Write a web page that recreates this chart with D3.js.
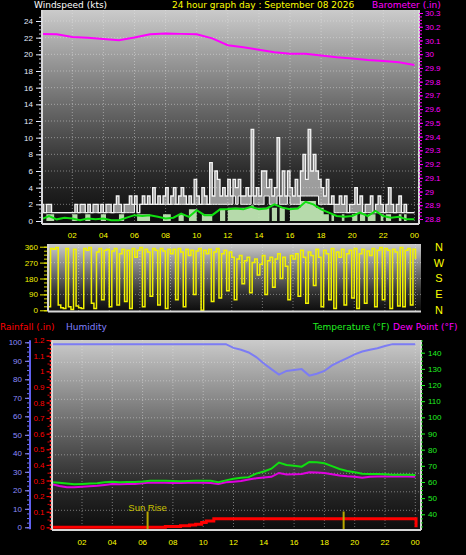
<!DOCTYPE html>
<html><head><meta charset="utf-8">
<script src="https://cdn.jsdelivr.net/npm/d3@7"></script>
<style>
html,body{margin:0;padding:0;background:#000;}
svg{display:block;font-family:"Liberation Sans",Arial,sans-serif;}
.title{font-family:"DejaVu Sans",Verdana,sans-serif;font-size:9px;}
</style></head><body>
<svg id="c" width="466" height="555"></svg>
<script>
// ---------------- DATA ----------------
const hourTicks  = [2,4,6,8,10,12,14,16,18,20,22,24];
const hourLabels = ["02","04","06","08","10","12","14","16","18","20","22","00"];

// wind, 10-minute samples 00:00 .. 24:00 (kts)
const windGust = [
 2,1,2,2,1,1, 1,1,1,1,1,1, 1,2,1,2,2,1, 2,1,2,2,1,2,
 1,2,2,1,2,3, 2,1,2,2,3,2, 3,1,2,3,2,3, 2,4,2,3,2,3,
 4,2,3,4,2,3, 4,3,2,3,2,5, 3,2,4,3,2,7, 3,6,5,3,4,3,
 5,3,5,4,5,3, 3,4,3,11,3,4, 3,6,6,4,5,3, 4,10,3,6,3,6,
 4,3,5,3,6,8, 5,11,6,8,6,5, 4,3,5,2,3,2, 2,3,2,3,1,2,
 2,4,2,3,1,2, 2,3,1,2,3,2, 1,2,4,2,1,2, 3,1,2,1,1,1, 1];
const windLull = [
 1,1,1,1,1,1, 1,1,1,1,1,1, 1,1,1,1,1,1, 1,1,1,1,1,1,
 1,1,1,1,1,1, 1,1,1,1,1,1, 2,1,2,2,2,2, 2,2,2,2,2,2,
 2,2,2,2,2,2, 2,2,2,2,2,2, 2,2,2,2,2,2, 2,2,2,2,2,2,
 2,2,3,2,3,2, 2,2,2,3,2,2, 2,2,3,3,2,2, 2,3,2,2,2,3,
 2,2,2,2,3,3, 3,3,3,3,3,2, 2,2,2,2,2,1, 1,1,1,1,1,1,
 1,1,1,1,1,1, 1,1,1,1,1,1, 1,1,1,1,1,1, 1,1,1,1,1,1, 1];
const windSpeed = [
 0,0,0.8,0.8,0.8,0, 0,0,0,0,0,0, 0.8,0.8,0,0,0,0.8, 0.8,0,0,0,0,0.8,
 0.8,0,0,0,0,0, 0.8,0.8,0,0,0,0, 0,0.8,0.8,0.8,0.8,0.8, 0,0,0,0,0,0.8,
 0.8,0.8,0,0,0,0.8, 0.8,0,0,1.4,1.4,1.4, 0,0,0.8,0.8,0.8,0.8, 0,0,0,1.4,1.4,0,
 1.6,1.6,1.6,1.6,1.6,1.6, 1.6,1.6,1.6,1.9,1.6,1.6, 1.6,1.6,1.6,1.6,0,1.6, 1.6,0,1.6,1.6,0,0,
 1.6,1.6,1.6,1.6,2.4,2.4, 2.4,2.4,2.4,2.4,1.6,1.6, 1.6,0.8,0.8,0,0.8,0, 0,0,0.8,0,0,0,
 0.8,0.8,0,0.8,0.8,0, 0.8,0.8,0.8,0,0,0.8, 0,0.8,0.8,0,0,0, 0.8,0,0.8,0,0,0, 0];
// average wind, 30-minute samples
const windAvg = [
 0.2,0.6,0.2,0.4,0.3,0.1,0.3,0.2,0.3,0.1,0.1,0.4,0.7,0.6,0.7,0.5,0.3,0.4,0.9,0.5,
 1.3,0.7,0.7,1.4,1.4,1.5,1.4,1.7,1.4,1.5,2.0,1.6,1.4,1.5,2.3,2.0,1.4,1.0,0.6,0.5,
 0.6,1.0,0.6,1.2,0.6,0.4,0.5,0.2,0.2];
// wind direction, 10-minute samples (degrees)
const windDir = [
 20,350,345,355,30,15, 10,350,20,5,345,25, 15,10,350,340,355,40, 10,330,350,60,340,345,
 20,335,350,30,320,345, 50,340,10,350,300,340, 355,20,345,330,80,350, 340,30,350,335,10,345,
 320,345,60,350,330,20, 345,310,340,90,335,350, 0,340,320,345,50,330, 350,70,320,340,110,330,
 300,60,290,310,150,280, 300,100,270,290,200,260, 310,90,280,300,130,290, 320,180,300,250,60,310,
 290,320,80,340,300,40, 330,310,140,345,300,20, 340,320,60,350,10,330, 300,345,30,320,340,70,
 350,10,320,345,40,335, 310,350,20,340,355,60, 350,340,10,345,330,25, 355,20,340,350,30,345, 290];
// barometer, hourly (in)
const barometer = [30.147,30.145,30.126,30.120,30.110,30.102,30.122,30.145,30.150,30.148,30.145,
 30.115,30.065,30.050,30.032,30.015,30.004,30.003,29.990,29.977,29.968,29.957,29.950,29.942,29.922];
// 30-minute samples
const humidity = [99,99,99,99,99,99,99,99,99,99,99,99,99,99,99,99,99,99,99,99,99,99,99,99,
 97,96,94.5,92,88.5,85.5,82.5,84.5,85,85.5,82,83,84.5,87.5,89.5,91.5,93.5,95,96,96.8,98,99,99,99,99];
const temperature = [59.8,59.5,59,58.6,58.8,59,59.2,59.8,60.2,59.8,60,60,60.3,60.8,60.8,60.8,60.6,60.5,
 60.6,60.8,60.8,60.8,59.9,61,62,62.6,63,65.2,66.5,68.2,72,70.5,70,69.5,72.4,72.2,71.6,69.8,68,66.8,
 66,65.1,65,65,64.8,64.5,64.5,64.5,64.3];
const dewPoint = [58.6,57.5,56.7,56.8,57.1,57.3,57.6,58.2,58.8,58.6,58.8,58.8,59.2,59.6,59.6,59.6,59.4,59.4,
 59.6,59.6,59.6,59.4,58.8,59.8,60.2,60.6,61.5,62.3,62.8,63.2,65.6,64.7,64.8,64.9,66,65.8,65.6,64.8,64,63.5,
 63.2,62.6,63.2,63.4,63.4,63.4,63.4,63.4,63.2];
// rainfall (stepped)
const rainHours = [0,7.5,8.5,9.1,9.5,9.9,10.2,10.7,24.05,24.05];
const rainfall  = [0,0.005,0.01,0.015,0.02,0.03,0.04,0.055,0.055,0];
const sunRise = 6.33, sunSet = 19.27;
const compass = ["N","W","S","E","N"];
const compassDeg = [360,270,180,90,0];

// ---------------- DRAW ----------------
const svg = d3.select("#c");
const defs = svg.append("defs");
const gr = defs.append("linearGradient").attr("id","bg").attr("x1",0).attr("y1",0).attr("x2",0).attr("y2",1);
[[0,"#cbcbcb"],[0.45,"#6a6a6a"],[0.75,"#2c2c2c"],[1,"#0c0c0c"]].forEach(([o,c])=>gr.append("stop").attr("offset",o).attr("stop-color",c));

const P1={x0:42,x1:419,y0:10,y1:224}, P2={x0:48,x1:421,y0:244,y1:311.5}, P3={x0:52,x1:421,y0:340,y1:530};
function panel(P,id){
  svg.append("rect").attr("x",P.x0).attr("y",P.y0).attr("width",P.x1-P.x0).attr("height",P.y1-P.y0).attr("fill","url(#bg)");
  defs.append("clipPath").attr("id",id).append("rect").attr("x",P.x0).attr("y",P.y0).attr("width",P.x1-P.x0).attr("height",P.y1-P.y0);
}
function hgrid(P,ys){ svg.append("g").selectAll("line").data(ys).join("line")
  .attr("x1",P.x0).attr("x2",P.x1).attr("y1",d=>d).attr("y2",d=>d)
  .attr("stroke","#e8e8e8").attr("stroke-opacity",0.45).attr("stroke-dasharray","1,2"); }
function vgrid(P,xs){ svg.append("g").selectAll("line").data(xs).join("line")
  .attr("y1",P.y0).attr("y2",P.y1).attr("x1",d=>d).attr("x2",d=>d)
  .attr("stroke","#e8e8e8").attr("stroke-opacity",0.45).attr("stroke-dasharray","1,2"); }
function frame(P,sides){ const s={l:[P.x0,P.y0,P.x0,P.y1],b:[P.x0,P.y1,P.x1,P.y1],r:[P.x1,P.y0,P.x1,P.y1]};
  sides.forEach(k=>svg.append("line").attr("x1",s[k][0]).attr("y1",s[k][1]).attr("x2",s[k][2]).attr("y2",s[k][3])
   .attr("stroke","#d8d8d8").attr("stroke-width",2)); }
function styleAxis(g,color,size){
  g.select(".domain").remove();
  g.attr("font-family",null).attr("font-size",null);
  g.selectAll("line").attr("stroke",color);
  g.selectAll("text").attr("fill",color).style("font-size",(size||8)+"px");
}
function range(a,b,s){ const r=[]; for(let v=a; v<=b+1e-9; v+=s) r.push(+v.toFixed(4)); return r; }

// ===== Panel 1: wind / barometer =====
const xT = d3.scaleLinear([0,24],[41.2,414.4]);
const yW = d3.scaleLinear([0,24],[221,21]);
const yBaro = d3.scaleLinear([28.8,30.3],[219,13]);
panel(P1,"c1");
hgrid(P1, range(2,24,2).map(yW));
vgrid(P1, hourTicks.map(xT));
const t10 = i=>i/6, t30 = i=>i/2;
const g1 = svg.append("g").attr("clip-path","url(#c1)");
g1.append("path").datum(windSpeed).attr("fill","#c4ecb8").attr("fill-opacity",0.92)
  .attr("d", d3.area().x((d,i)=>xT(t10(i))).y0(yW(0)).y1(d=>yW(d)).curve(d3.curveStepAfter));
g1.append("path").datum(windGust).attr("fill","#e8e8e8").attr("fill-opacity",0.62)
  .attr("d", d3.area().x((d,i)=>xT(t10(i))).y0((d,i)=>yW(windLull[i])).y1(d=>yW(d)).curve(d3.curveStepAfter));
g1.append("path").datum(windGust).attr("fill","none").attr("stroke","#f4f4f4").attr("stroke-width",1.3)
  .attr("d", d3.line().x((d,i)=>xT(t10(i))).y(d=>yW(d)).curve(d3.curveStepAfter));
g1.append("path").datum(windLull).attr("fill","none").attr("stroke","#f0f0f0").attr("stroke-width",1)
  .attr("d", d3.line().x((d,i)=>xT(t10(i))).y(d=>yW(d)).curve(d3.curveStepAfter));
g1.append("path").datum(windAvg).attr("fill","none").attr("stroke","#10e010").attr("stroke-width",2)
  .attr("d", d3.line().x((d,i)=>xT(t30(i))).y(d=>yW(d)));
g1.append("path").datum(barometer).attr("fill","none").attr("stroke","#ff00ff").attr("stroke-width",2)
  .attr("d", d3.line().x((d,i)=>xT(i)).y(d=>yBaro(d)));
frame(P1,["l","b","r"]);
// left axis
svg.append("g").attr("transform",`translate(${P1.x0},0)`).call(d3.axisLeft(yW).tickValues(range(0,24.5,0.5)).tickSize(3).tickFormat(""))
  .call(g=>styleAxis(g,"#c8c8d8"));
svg.append("g").attr("transform",`translate(${P1.x0},0)`).call(d3.axisLeft(yW).tickValues(range(0,24,2)).tickSize(6).tickPadding(3))
  .call(g=>styleAxis(g,"#e4ecff"));
// right axis barometer
svg.append("g").attr("transform",`translate(${P1.x1},0)`).call(d3.axisRight(yBaro).tickValues(range(28.8,30.3,0.025)).tickSize(3).tickFormat(""))
  .call(g=>styleAxis(g,"#ff00ff"));
svg.append("g").attr("transform",`translate(${P1.x1},0)`).call(d3.axisRight(yBaro).tickValues(range(28.8,30.3,0.1)).tickSize(4).tickPadding(2)
  .tickFormat(d=>String(+d.toFixed(1)))).call(g=>styleAxis(g,"#ff00ff"));
// bottom hour labels
svg.append("g").selectAll("text").data(hourTicks).join("text")
  .attr("x",d=>xT(d)).attr("y",237.5).attr("text-anchor","middle").attr("fill","#ffff00").style("font-size","8px")
  .text((d,i)=>hourLabels[i]);
// titles
svg.append("text").attr("class","title").attr("x",34).attr("y",7.5).attr("fill","#ffffff").text("Windspeed (kts)");
svg.append("text").attr("class","title").attr("x",172).attr("y",7.5).attr("fill","#ffff00").text("24 hour graph day : September 08 2026");
svg.append("text").attr("class","title").attr("x",372).attr("y",7.5).attr("fill","#ff00ff").text("Barometer (.in)");

// ===== Panel 2: wind direction =====
const xD = d3.scaleLinear([0,24],[48,415.5]);
const yD = d3.scaleLinear([0,360],[310.3,246.7]);
panel(P2,"c2");
hgrid(P2,[90,180,270].map(yD));
vgrid(P2, hourTicks.map(xD));
svg.append("g").attr("clip-path","url(#c2)").append("path").datum(windDir)
  .attr("fill","none").attr("stroke","#f2f200").attr("stroke-width",1.5)
  .attr("d", d3.line().x((d,i)=>xD(t10(i))).y(d=>yD(d)).curve(d3.curveStepAfter));
frame(P2,["l","b"]);
svg.append("g").attr("transform",`translate(${P2.x0-1},0)`).call(d3.axisLeft(yD).tickValues(range(0,360,22.5)).tickSize(3).tickFormat(""))
  .call(g=>styleAxis(g,"#e0e000"));
svg.append("g").attr("transform",`translate(${P2.x0-1},0)`).call(d3.axisLeft(yD).tickValues([0,90,180,270,360]).tickSize(7).tickPadding(2))
  .call(g=>styleAxis(g,"#f0f000"));
svg.append("g").selectAll("text").data(compass).join("text")
  .attr("x",439).attr("y",(d,i)=>yD(compassDeg[i])).attr("dy","0.36em").attr("text-anchor","middle")
  .attr("fill","#ffff00").style("font-size","11px").text(d=>d);

// ===== Panel 3: rain / humidity / temperature =====
const xB = d3.scaleLinear([0,24],[51.7,415.3]);
const yH = d3.scaleLinear([0,100],[527.3,342.3]);
const yR = d3.scaleLinear([0,1.1],[527.3,355.7]);
const yT = d3.scaleLinear([40,140],[514.3,352.7]);
panel(P3,"c3");
hgrid(P3, range(10,90,10).map(v=>yH(v)+1.5));
vgrid(P3, hourTicks.map(xB));
const g3 = svg.append("g").attr("clip-path","url(#c3)");
g3.append("path").datum(humidity).attr("fill","none").attr("stroke","#7c7cf4").attr("stroke-width",2)
  .attr("d", d3.line().x((d,i)=>xB(t30(i))).y(d=>yH(d)));
g3.append("path").datum(dewPoint).attr("fill","none").attr("stroke","#e000e0").attr("stroke-width",2)
  .attr("d", d3.line().x((d,i)=>xB(t30(i))).y(d=>yT(d)));
g3.append("path").datum(temperature).attr("fill","none").attr("stroke","#10e010").attr("stroke-width",2)
  .attr("d", d3.line().x((d,i)=>xB(t30(i))).y(d=>yT(d)));
g3.append("path").datum(rainfall).attr("fill","none").attr("stroke","#ff0000").attr("stroke-width",3)
  .attr("d", d3.line().x((d,i)=>xB(rainHours[i])).y(d=>yR(d)).curve(d3.curveStepAfter));
g3.selectAll("line.sun").data([sunRise,sunSet]).join("line").attr("class","sun")
  .attr("x1",d=>xB(d)).attr("x2",d=>xB(d)).attr("y1",511.5).attr("y2",530)
  .attr("stroke","#b8a800").attr("stroke-width",2);
svg.append("text").attr("x",xB(sunRise)).attr("y",510.5).attr("text-anchor","middle").attr("fill","#c8c000")
  .style("font-size","9.5px").text("Sun Rise");
frame(P3,["l","b","r"]);
// humidity axis
svg.append("line").attr("x1",30).attr("x2",30).attr("y1",yH(100)-2).attr("y2",yH(0)+2).attr("stroke","#6060f0").attr("stroke-width",2);
svg.append("g").attr("transform","translate(29,0)").call(d3.axisLeft(yH).tickValues(range(0,100,2.5)).tickSize(2).tickFormat(""))
  .call(g=>styleAxis(g,"#7070f0"));
svg.append("g").attr("transform","translate(29,0)").call(d3.axisLeft(yH).tickValues(range(0,100,10)).tickSize(4).tickPadding(3))
  .call(g=>styleAxis(g,"#8c8cff"));
// rain axis
svg.append("line").attr("x1",50.5).attr("x2",50.5).attr("y1",P3.y0).attr("y2",P3.y1).attr("stroke","#ff2020").attr("stroke-width",1.5).attr("stroke-dasharray","2,2");
svg.append("g").attr("transform","translate(49.5,0)").call(d3.axisLeft(yR).tickValues(range(0,1.2,0.05)).tickSize(2).tickFormat(""))
  .call(g=>styleAxis(g,"#e00000"));
svg.append("g").attr("transform","translate(49.5,0)").call(d3.axisLeft(yR).tickValues(range(0,1.2,0.1)).tickSize(3).tickPadding(2)
  .tickFormat(d=>String(+d.toFixed(1)))).call(g=>styleAxis(g,"#ff0000"));
// temperature axis
svg.append("g").attr("transform",`translate(${P3.x1},0)`).call(d3.axisRight(yT).tickValues(range(32.5,147.5,2.5)).tickSize(2).tickFormat(""))
  .call(g=>styleAxis(g,"#10d010"));
svg.append("g").attr("transform",`translate(${P3.x1},0)`).call(d3.axisRight(yT).tickValues(range(40,140,10)).tickSize(4).tickPadding(3))
  .call(g=>styleAxis(g,"#20f020"));
// bottom hour labels
svg.append("g").selectAll("text").data(hourTicks).join("text")
  .attr("x",d=>xB(d)).attr("y",544.5).attr("text-anchor","middle").attr("fill","#ffff00").style("font-size","8px")
  .text((d,i)=>hourLabels[i]);
// titles
svg.append("text").attr("class","title").attr("x",0).attr("y",330).attr("fill","#ff0000").text("Rainfall (.in)");
svg.append("text").attr("class","title").attr("x",66).attr("y",330).attr("fill","#8080ff").text("Humidity");
svg.append("text").attr("class","title").attr("x",313).attr("y",330).attr("fill","#20f020").text("Temperature (°F)");
svg.append("text").attr("class","title").attr("x",393).attr("y",330).attr("fill","#ff00ff").text("Dew Point (°F)");
</script>
</body></html>
